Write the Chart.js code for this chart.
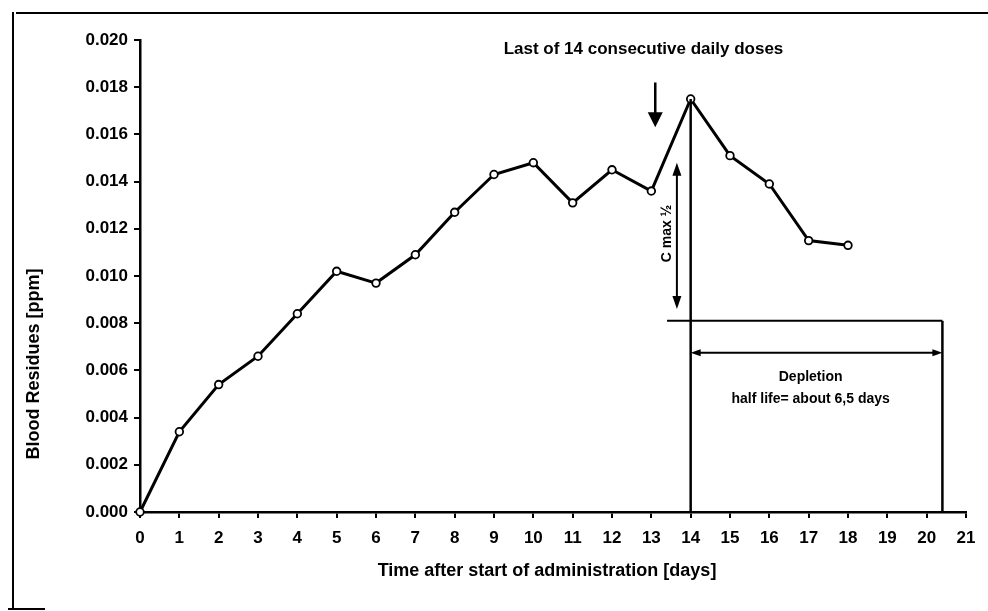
<!DOCTYPE html>
<html>
<head>
<meta charset="utf-8">
<script src="https://cdn.jsdelivr.net/npm/chart.js@4/dist/chart.umd.min.js"></script>
<style>
  html, body { margin: 0; padding: 0; background: #ffffff; }
  #wrap { width: 988px; height: 611px; }
</style>
</head>
<body>
<div id="wrap"><canvas id="c" width="988" height="611"></canvas></div>
<script>
// ---- data ----
const days = [0, 1, 2, 3, 4, 5, 6, 7, 8, 9, 10, 11, 12, 13, 14, 15, 16, 17, 18];
const residues = [0.0000, 0.0034, 0.0054, 0.0066, 0.0084, 0.0102, 0.0097, 0.0109, 0.0127,
                  0.0143, 0.0148, 0.0131, 0.0145, 0.0136, 0.0175, 0.0151, 0.0139, 0.0115, 0.0113];
const xTickRange = [0, 21];
const yTickRange = [0, 0.020];
const yStep = 0.002;

// annotation geometry in data units
const doseArrow = [13.1, 0.0182, 0.0163];        // x, yTop, yTip
const cmaxArrow = [13.65, 0.0148, 0.0086];       // x, yTop, yBottom
const peakLine = [14, 0.0175, 0];                // x, yTop, yBottom
const halfLevelLine = [13.4, 20.4, 0.0081];      // xStart, xEnd, y
const endLine = [20.4, 0.0081, 0];               // x, yTop, yBottom
const depletionArrow = [14, 20.4, 0.00675];      // xStart, xEnd, y
const labels = {
  dose: ["Last of 14 consecutive daily doses", 12.8, 0.0196],
  cmax: ["C max ½", 13.4, 0.0118],
  depl1: ["Depletion", 17.05, 0.0057],
  depl2: ["half life= about 6,5 days", 17.05, 0.0048]
};
const xTitle = "Time after start of administration [days]";
const yTitle = "Blood Residues [ppm]";

const FONT = "'Liberation Sans', Arial, sans-serif";

function arrowHead(ctx, tipX, tipY, dirX, dirY, len, half) {
  const px = -dirY, py = dirX;
  ctx.beginPath();
  ctx.moveTo(tipX, tipY);
  ctx.lineTo(tipX - dirX * len + px * half, tipY - dirY * len + py * half);
  ctx.lineTo(tipX - dirX * len - px * half, tipY - dirY * len - py * half);
  ctx.closePath();
  ctx.fill();
}
function line(ctx, x1, y1, x2, y2, w) {
  ctx.lineWidth = w;
  ctx.beginPath();
  ctx.moveTo(x1, y1);
  ctx.lineTo(x2, y2);
  ctx.stroke();
}

const decor = {
  id: 'decor',
  beforeDraw(chart) {
    const ctx = chart.ctx;
    ctx.save();
    ctx.fillStyle = '#ffffff';
    ctx.fillRect(0, 0, chart.width, chart.height);
    ctx.strokeStyle = '#000';
    // scanned page frame
    line(ctx, 16, 13, 988, 13, 2);
    line(ctx, 13, 12, 13, 609, 2);
    line(ctx, 8, 609, 45, 609, 2);
    ctx.restore();
  },
  afterDraw(chart) {
    const ctx = chart.ctx;
    const xs = chart.scales.x, ys = chart.scales.y;
    const X = v => xs.getPixelForValue(v), Y = v => ys.getPixelForValue(v);
    ctx.save();
    ctx.strokeStyle = '#000';
    ctx.fillStyle = '#000';

    // dose arrow
    {
      const x = X(doseArrow[0]), y1 = Y(doseArrow[1]), y2 = Y(doseArrow[2]);
      line(ctx, x, y1, x, y2 - 12, 2.5);
      arrowHead(ctx, x, y2, 0, 1, 15, 7.5);
    }
    // C max 1/2 double arrow
    {
      const x = X(cmaxArrow[0]), y1 = Y(cmaxArrow[1]), y2 = Y(cmaxArrow[2]);
      line(ctx, x, y1 + 8, x, y2 - 8, 2);
      arrowHead(ctx, x, y1, 0, -1, 13, 4.5);
      arrowHead(ctx, x, y2, 0, 1, 13, 4.5);
    }
    // vertical line at peak
    line(ctx, X(peakLine[0]), Y(peakLine[1]), X(peakLine[0]), Y(peakLine[2]), 2.5);
    // half level line and end line
    line(ctx, X(halfLevelLine[0]), Y(halfLevelLine[2]), X(halfLevelLine[1]), Y(halfLevelLine[2]), 2);
    line(ctx, X(endLine[0]), Y(endLine[1]), X(endLine[0]), Y(endLine[2]), 2.5);
    // depletion double arrow
    {
      const x1 = X(depletionArrow[0]), x2 = X(depletionArrow[1]), y = Y(depletionArrow[2]);
      line(ctx, x1 + 6, y, x2 - 6, y, 2);
      arrowHead(ctx, x1, y, -1, 0, 10, 3.5);
      arrowHead(ctx, x2, y, 1, 0, 10, 3.5);
    }

    // texts
    ctx.textAlign = 'center';
    ctx.textBaseline = 'middle';
    ctx.font = 'bold 17px ' + FONT;
    ctx.fillText(labels.dose[0], X(labels.dose[1]), Y(labels.dose[2]));
    ctx.font = 'bold 14px ' + FONT;
    ctx.fillText(labels.depl1[0], X(labels.depl1[1]), Y(labels.depl1[2]));
    ctx.fillText(labels.depl2[0], X(labels.depl2[1]), Y(labels.depl2[2]));

    ctx.save();
    ctx.translate(X(labels.cmax[1]), Y(labels.cmax[2]));
    ctx.rotate(-Math.PI / 2);
    ctx.font = 'bold 14px ' + FONT;
    ctx.fillText(labels.cmax[0], 0, 0);
    ctx.restore();

    // y axis title
    ctx.save();
    ctx.translate(34, 364);
    ctx.rotate(-Math.PI / 2);
    ctx.font = 'bold 18px ' + FONT;
    ctx.fillText(yTitle, 0, 0);
    ctx.restore();

    // x axis title
    ctx.font = 'bold 18px ' + FONT;
    ctx.fillText(xTitle, 547, 571);

    ctx.restore();
  }
};

const chart = new Chart(document.getElementById('c'), {
  type: 'line',
  data: {
    datasets: [{
      data: days.map((d, i) => ({ x: d, y: residues[i] })),
      borderColor: '#000',
      borderWidth: 3,
      tension: 0,
      pointRadius: 3.8,
      pointBackgroundColor: '#fff',
      pointBorderColor: '#000',
      pointBorderWidth: 1.8,
      clip: false
    }]
  },
  options: {
    responsive: false,
    animation: false,
    events: [],
    layout: { padding: { left: 0, right: 22, top: 40, bottom: 0 } },
    plugins: { legend: { display: false }, tooltip: { enabled: false }, title: { display: false } },
    scales: {
      x: {
        type: 'linear',
        min: xTickRange[0],
        max: xTickRange[1],
        afterFit(s) { s.height = 99; },
        border: { display: true, color: '#000', width: 2.5 },
        grid: { display: true, drawOnChartArea: false, drawTicks: true, tickLength: 6, color: '#000', lineWidth: 2 },
        ticks: {
          stepSize: 1,
          color: '#000',
          padding: 10,
          maxRotation: 0,
          autoSkip: false,
          font: { family: FONT, size: 17, weight: 'bold' }
        },
        title: { display: false }
      },
      y: {
        type: 'linear',
        min: yTickRange[0],
        max: yTickRange[1],
        afterFit(s) { s.width = 140; },
        border: { display: true, color: '#000', width: 2.5 },
        grid: { display: true, drawOnChartArea: false, drawTicks: true, tickLength: 6, color: '#000', lineWidth: 2 },
        ticks: {
          stepSize: yStep,
          color: '#000',
          padding: 6,
          font: { family: FONT, size: 17, weight: 'bold' },
          callback: v => Number(v).toFixed(3)
        }
      }
    }
  },
  plugins: [decor]
});
</script>
</body>
</html>
